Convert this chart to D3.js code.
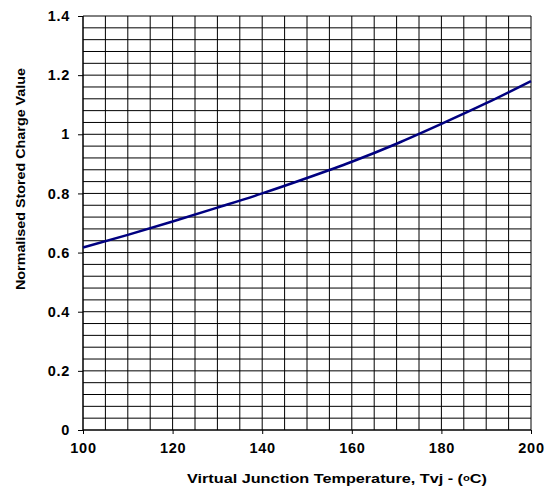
<!DOCTYPE html>
<html>
<head>
<meta charset="utf-8">
<script src="https://cdn.jsdelivr.net/npm/d3@7/dist/d3.min.js"></script>
<style>
  html, body { margin: 0; padding: 0; background: #fff; }
  svg text { font-family: "Liberation Sans", Arial, sans-serif; font-weight: bold; fill: #000; }
</style>
</head>
<body>
<svg id="chart" width="547" height="491"></svg>
<script>
const temperature = [100, 110, 120, 130, 140, 150, 160, 170, 180, 190, 200];
const storedCharge = [0.617, 0.66, 0.705, 0.752, 0.80, 0.852, 0.907, 0.968, 1.035, 1.105, 1.18];
const xTicks = [100, 120, 140, 160, 180, 200];
const yTicks = [0, 0.2, 0.4, 0.6, 0.8, 1, 1.2, 1.4];
const xGrid = d3.range(100, 200.1, 5);
const yGrid = d3.range(0, 1.4001, 0.04);

const svg = d3.select("#chart");
const m = { left: 83, top: 16, right: 531, bottom: 430 };
const x = d3.scaleLinear().domain([100, 200]).range([m.left, m.right]);
const y = d3.scaleLinear().domain([0, 1.4]).range([m.bottom, m.top]);

const g = svg.append("g");
g.selectAll(".vg").data(xGrid).enter().append("line")
  .attr("x1", d => x(d)).attr("x2", d => x(d))
  .attr("y1", m.top).attr("y2", m.bottom)
  .attr("stroke", "#000").attr("stroke-width", 1);
g.selectAll(".hg").data(yGrid).enter().append("line")
  .attr("y1", d => y(d)).attr("y2", d => y(d))
  .attr("x1", m.left).attr("x2", m.right)
  .attr("stroke", "#000").attr("stroke-width", 1);

const xAxis = d3.axisBottom(x).tickValues(xTicks).tickSize(4).tickPadding(9).tickFormat(d3.format("d"));
const yAxis = d3.axisLeft(y).tickValues(yTicks).tickSize(5).tickPadding(8).tickFormat(d => String(d));

const xa = svg.append("g").attr("transform", `translate(0,${m.bottom})`).call(xAxis);
const ya = svg.append("g").attr("transform", `translate(${m.left},0)`).call(yAxis);
[xa, ya].forEach(a => {
  a.select(".domain").remove();
  a.selectAll("line").attr("stroke", "#000");
  a.selectAll("text").style("font-size", "14.5px").style("letter-spacing", "0.7px")
    .style("font-family", '"Liberation Sans", Arial, sans-serif').style("font-weight", "bold");
});
ya.append("line").attr("x1", 0).attr("x2", 0).attr("y1", m.top).attr("y2", m.bottom).attr("stroke", "#000");
xa.append("line").attr("x1", m.left).attr("x2", m.right).attr("y1", 0).attr("y2", 0).attr("stroke", "#000");

const line = d3.line().x((d, i) => x(temperature[i])).y(d => y(d)).curve(d3.curveMonotoneX);
svg.append("path").datum(storedCharge)
  .attr("d", line).attr("fill", "none")
  .attr("stroke", "#000080").attr("stroke-width", 2.5);

const xt = svg.append("text").attr("x", 337).attr("y", 483)
  .attr("text-anchor", "middle").style("font-size", "13px")
  .attr("textLength", 300).attr("lengthAdjust", "spacingAndGlyphs");
xt.append("tspan").text("Virtual Junction Temperature, Tvj - (");
xt.append("tspan").text("o").style("font-size", "9px").attr("dy", -2);
xt.append("tspan").text("C)").attr("dy", 2);

svg.append("text").attr("transform", "translate(25,179) rotate(-90)")
  .attr("text-anchor", "middle").style("font-size", "13px")
  .attr("textLength", 222).attr("lengthAdjust", "spacingAndGlyphs")
  .text("Normalised Stored Charge Value");
</script>
</body>
</html>
